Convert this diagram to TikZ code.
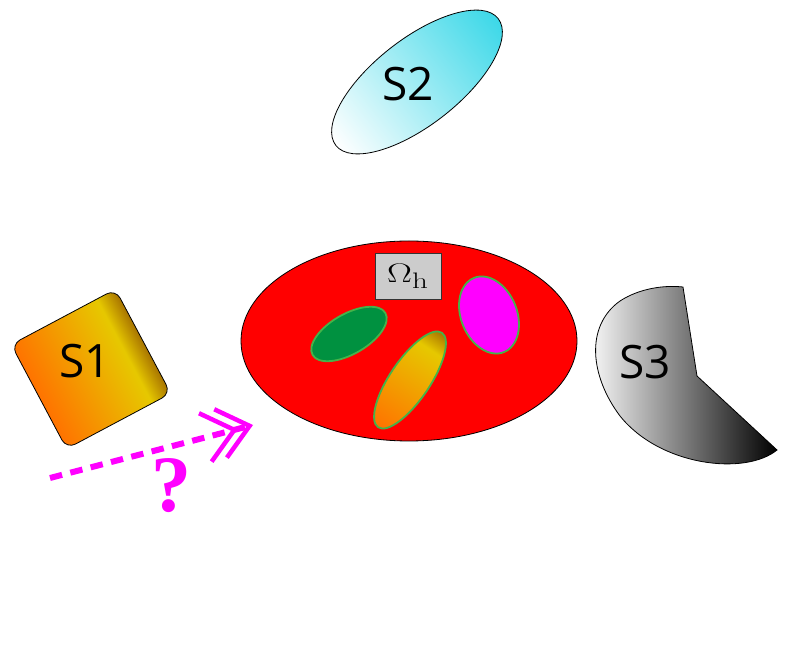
\documentclass[tikz,border=0pt]{standalone}
\usepackage{fontspec}
\setsansfont{Open Sans}
\newfontfamily\qfont{Liberation Serif}
\usetikzlibrary{arrows.meta}
\definecolor{oA}{HTML}{FF7300}
\definecolor{yA}{HTML}{E6C800}
\definecolor{dA}{HTML}{A87400}
\definecolor{cyanA}{HTML}{3CD8E8}
\definecolor{greenF}{HTML}{009140}
\definecolor{greenE}{HTML}{45B34A}
\definecolor{magA}{HTML}{FF00FF}
\pgfdeclarehorizontalshading{goldshade}{100bp}{color(0bp)=(oA); color(25bp)=(oA); color(66bp)=(yA); color(75bp)=(dA); color(100bp)=(dA)}
\tikzset{
  lbl/.style={font=\sffamily\fontsize{46}{50}\selectfont, text=black, inner sep=0pt},
  outl/.style={draw=black, line width=0.8pt},
  inner/.style={draw=greenE, line width=1.8pt},
}
\begin{document}
\begin{tikzpicture}[x=1pt,y=1pt]
\useasboundingbox (0,0) rectangle (811,656);
% big red domain
\draw[outl, fill=red] (409,315) ellipse [x radius=168pt, y radius=100pt];
\node[draw=black!80, line width=0.8pt, fill=black!20, minimum width=66pt, minimum height=46pt, inner sep=0pt,
      font=\fontsize{24.88}{30}\selectfont] (omega) at (408,380) {\scalebox{1.5}[1.08]{$\Omega_{\mathrm{h}}$}};
% green inclusion
\draw[inner, fill=greenF, rotate around={30:(349,322)}] (349,322) ellipse [x radius=42pt, y radius=20pt];
% magenta inclusion
\draw[inner, fill=magA, rotate around={22:(489,341)}] (489,341) ellipse [x radius=28pt, y radius=40pt];
% orange inclusion
\begin{scope}[transform canvas={shift={(410,276)}, rotate=56}]
  \draw[inner, shading=goldshade] (0,0) ellipse [x radius=57pt, y radius=20pt];
\end{scope}
% S1
\begin{scope}[transform canvas={shift={(91,287)}, rotate=28}]
  \draw[outl, shading=goldshade, rounded corners=10pt] (-59,-59) rectangle (59,59);
\end{scope}
\node[lbl] (s1) at (85,295) {S1};
% S2
\begin{scope}[transform canvas={shift={(417,574)}, rotate=38}]
  \draw[outl, left color=white, right color=cyanA] (0,0) ellipse [x radius=103pt, y radius=43pt];
\end{scope}
\node[lbl] (s2) at (408,572) {S2};
% S3
\draw[outl, left color=white, right color=black]
  (683,369) -- (697,280) -- (777,206)
  .. controls (745,180) and (660,190) .. (620,240)
  .. controls (590,280) and (585,330) .. (620,355)
  .. controls (640,368) and (665,371) .. (683,369) -- cycle;
\node[lbl] (s3) at (645,294) {S3};
% arrow
\coordinate (a0) at (50,178);
\coordinate (a1) at (253,231);
\draw[magA, line width=6pt, dash pattern=on 12.5pt off 8.5pt,
      -{Straight Barb[length=30pt,width=50pt,line width=4.5pt,sep=-20pt] Straight Barb[length=30pt,width=50pt,line width=4.5pt]}]
  (a0) -- (a1);
\node[text=magA, font=\qfont\bfseries\fontsize{80}{80}\selectfont, inner sep=0pt] (q) at (171,170) {?};
\end{tikzpicture}
\end{document}
